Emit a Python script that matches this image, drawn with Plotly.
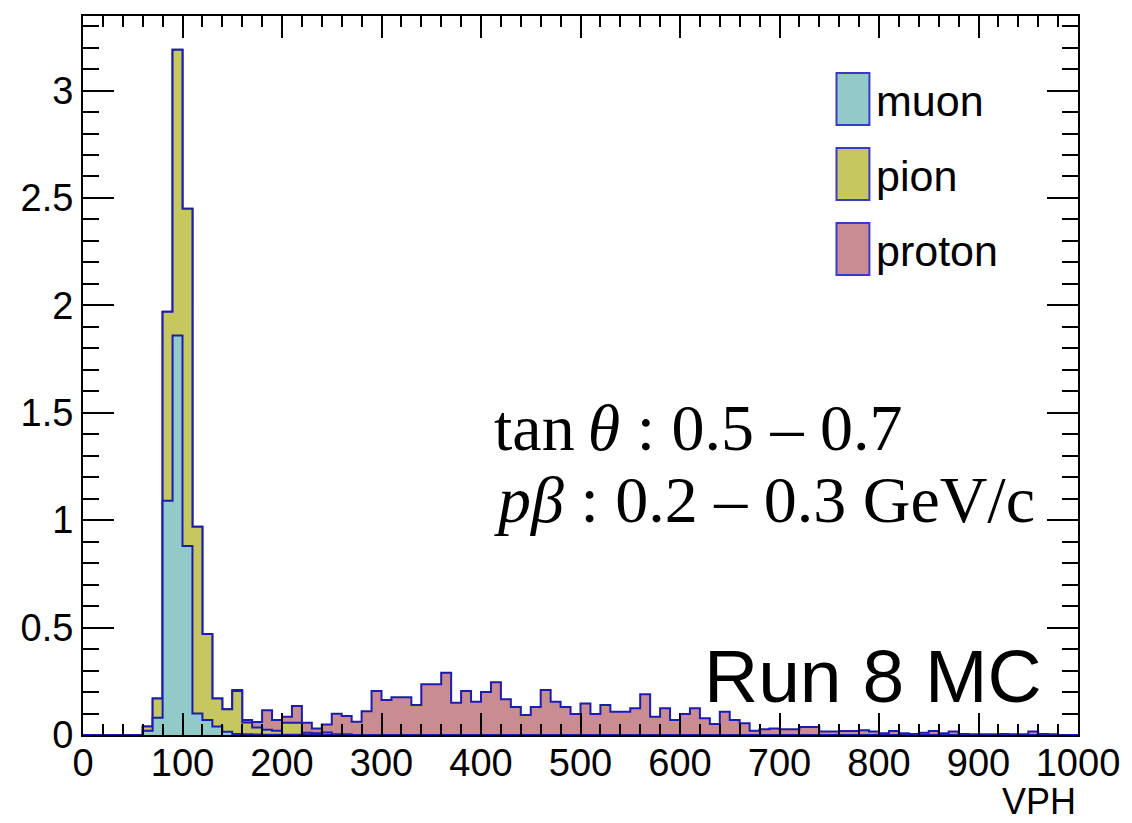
import numpy as np
import plotly.graph_objects as go

# ---- data: 100 bins of width 10 on VPH [0, 1000] ----
bin_edges = list(range(0, 1001, 10))

muon = [0, 0, 0, 0, 0, 0, 0.02, 0.08, 1.09, 1.86,
        0.88, 0.10, 0.07, 0.04, 0.015, 0.005, 0.003, 0.002, 0.001, 0.001,
        0.001, 0.001, 0.001, 0, 0, 0, 0, 0, 0, 0] + [0] * 70

pion = [0, 0, 0, 0, 0, 0, 0.02, 0.09, 0.88, 1.33,
        1.57, 0.87, 0.40, 0.13, 0.105, 0.20, 0.055, 0.033, 0.024, 0.019,
        0.056, 0.056, 0.010, 0.008, 0.012, 0.004, 0.003, 0, 0, 0] + [0] * 70

proton = [0, 0, 0, 0, 0, 0, 0, 0, 0, 0,
          0, 0, 0, 0, 0, 0.005, 0.012, 0.025, 0.090, 0.050,
          0.028, 0.078, 0.046, 0.022, 0.037, 0.095, 0.085, 0.062, 0.110, 0.205,
          0.163, 0.176, 0.176, 0.140, 0.236, 0.236, 0.290, 0.150, 0.205, 0.155,
          0.200, 0.245, 0.167, 0.130, 0.093, 0.130, 0.210, 0.155, 0.130, 0.098,
          0.147, 0.098, 0.140, 0.108, 0.108, 0.124, 0.190, 0.085, 0.124, 0.070,
          0.098, 0.124, 0.078, 0.051, 0.108, 0.070, 0.055, 0.020, 0.027, 0.030,
          0.027, 0.027, 0.037, 0.037, 0.016, 0.016, 0.019, 0.019, 0.022, 0.016,
          0.008, 0.019, 0.008, 0.005, 0.010, 0.019, 0.008, 0.016, 0.005, 0.003,
          0.003, 0.003, 0.005, 0.003, 0.003, 0.016, 0.005, 0.003, 0, 0]

series_names = ["muon", "pion", "proton"]
fill_colors = {"muon": "#92c9c9", "pion": "#c7c760", "proton": "#c98c93"}
line_color = "#1c1cb0"

mu = np.array(muon, dtype=float)
pi = np.array(pion, dtype=float)
pr = np.array(proton, dtype=float)
stack = {"muon": mu, "pion": mu + pi, "proton": mu + pi + pr}

fig = go.Figure()
# draw stacked totals from top down, each filled to zero (THStack style)
for name in ["proton", "pion", "muon"]:
    yv = stack[name]
    y_step = list(yv) + [yv[-1]]
    fig.add_trace(go.Scatter(
        x=bin_edges, y=y_step, mode="lines", line_shape="hv",
        line=dict(color=line_color, width=2),
        fill="tozeroy", fillcolor=fill_colors[name],
        name=name, showlegend=False, hoverinfo="skip"))

W, H = 1132, 823
L, R, T, B = 83, 52, 16, 88
pw, ph = W - L - R, H - T - B


def px(xp):
    return (xp - L) / pw


def py(yp):
    return (H - B - yp) / ph


axis_font = dict(family="Liberation Sans, Arial, sans-serif", size=38, color="black")

fig.update_layout(
    width=W, height=H,
    margin=dict(l=L, r=R, t=T, b=B),
    paper_bgcolor="white", plot_bgcolor="white",
    showlegend=False,
    xaxis=dict(range=[0, 1000], dtick=100, tick0=0,
               ticks="inside", ticklen=22, tickwidth=2, tickcolor="black",
               minor=dict(dtick=20, ticks="inside", ticklen=11, tickwidth=2, tickcolor="black"),
               showline=True, linecolor="black", linewidth=2, mirror="ticks",
               showgrid=False, zeroline=False, tickfont=axis_font,
               ticklabelstandoff=-7),
    yaxis=dict(range=[0, 3.347], dtick=0.5, tick0=0,
               ticks="inside", ticklen=31, tickwidth=2, tickcolor="black",
               minor=dict(dtick=0.1, ticks="inside", ticklen=16, tickwidth=2, tickcolor="black"),
               showline=True, linecolor="black", linewidth=2, mirror="ticks",
               showgrid=False, zeroline=False, tickfont=axis_font),
)

# legend (ROOT TLegend style)
legend_boxes = [(73, 125), (148, 200), (223, 275)]
legend_text_y = [101, 176, 251]
for name, (y0, y1), ty in zip(series_names, legend_boxes, legend_text_y):
    fig.add_shape(type="rect", xref="paper", yref="paper",
                  x0=px(838), x1=px(871), y0=py(y1), y1=py(y0),
                  fillcolor=fill_colors[name], line=dict(color="#3a3ac8", width=2))
    fig.add_annotation(xref="paper", yref="paper", x=px(876), y=py(ty),
                       xanchor="left", yanchor="middle", showarrow=False,
                       text=name,
                       font=dict(family="Liberation Sans, Arial, sans-serif", size=43, color="black"))

serif = dict(family="Liberation Serif, Times New Roman, serif", size=66, color="black")
fig.add_annotation(xref="paper", yref="paper", x=px(493), y=py(427),
                   xanchor="left", yanchor="middle", showarrow=False,
                   text="tan\u2009<i>θ</i> : 0.5 – 0.7", font=serif)
fig.add_annotation(xref="paper", yref="paper", x=px(493), y=py(499),
                   xanchor="left", yanchor="middle", showarrow=False,
                   text="<i>pβ</i> : 0.2 – 0.3 GeV/c", font=serif)

fig.add_annotation(xref="paper", yref="paper", x=px(1046), y=py(676),
                   xanchor="right", yanchor="middle", showarrow=False,
                   text="Run 8 MC",
                   font=dict(family="Liberation Sans, Arial, sans-serif", size=75, color="black"))

fig.add_annotation(xref="paper", yref="paper", x=px(1080), y=py(801),
                   xanchor="right", yanchor="middle", showarrow=False,
                   text="VPH",
                   font=dict(family="Liberation Sans, Arial, sans-serif", size=36, color="black"))

fig.write_html("out.html")
